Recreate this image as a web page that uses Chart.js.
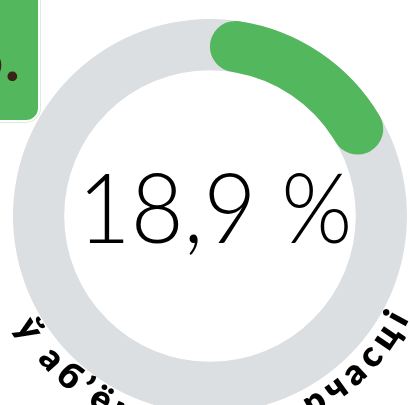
<!DOCTYPE html>
<html>
<head>
<meta charset="utf-8">
<script src="https://cdn.jsdelivr.net/npm/chart.js@4"></script>
<style>
  html, body { margin: 0; padding: 0; background: #ffffff; width: 410px; height: 405px; overflow: hidden; position: relative; }
  #wrap { position: absolute; left: -20px; top: -14px; width: 460px; height: 460px; }
  #badge { position: absolute; left: -40px; top: -20px; width: 76px; height: 138px; background: #53b75d;
           border: 2px solid #ffffff; border-radius: 14px; box-shadow: 0 0 0 1px #d9eedb; overflow: hidden; }
  #badge span { position: absolute; right: 18px; top: 43px; font-family: Lato, "Open Sans", sans-serif; font-weight: 700;
                font-size: 64px; color: #3a2217; line-height: 1; }
</style>
</head>
<body>
<div id="wrap"><canvas id="c" width="460" height="460"></canvas></div>
<div id="badge"><span>5.</span></div>
<script>
const categories = ['Доля', 'Астатняе'];
const values = [18.9, 81.1];
const centerLabel = '18,9 %';
const arcLabel = 'ў аб’ёме вытворчасці';

const GREEN = '#53b75d';
const GRAY = '#dcdfe2';

const decor = {
  id: 'decor',
  beforeDatasetsDraw(chart) {
    const arc = chart.getDatasetMeta(0).data[0];
    const ctx = chart.ctx;
    ctx.save();
    ctx.beginPath();
    ctx.arc(arc.x, arc.y, arc.outerRadius, 0, Math.PI * 2);
    ctx.arc(arc.x, arc.y, arc.innerRadius, 0, Math.PI * 2, true);
    ctx.fillStyle = GRAY;
    ctx.fill('evenodd');
    ctx.restore();
  },
  afterDraw(chart) {
    const arc = chart.getDatasetMeta(0).data[0];
    const ctx = chart.ctx;
    const cx = arc.x, cy = arc.y;
    ctx.save();
    // center value
    ctx.fillStyle = '#000000';
    ctx.font = '300 97px Lato, "Open Sans", sans-serif';
    ctx.textAlign = 'center';
    ctx.textBaseline = 'alphabetic';
    ctx.save();
    ctx.translate(cx + 5, cy + 27);
    ctx.scale(0.94, 1);
    ctx.fillText(centerLabel, 0, 0);
    ctx.restore();

    // curved label
    ctx.font = '800 36px Lato, "Open Sans", sans-serif';
    ctx.textBaseline = 'middle';
    ctx.textAlign = 'center';
    const chars = Array.from(arcLabel);
    const widths = chars.map(ch => ctx.measureText(ch).width);
    const r = arc.outerRadius + 16;
    const startDeg = 148, endDeg = 28.7;
    const totalArc = (startDeg - endDeg) * Math.PI / 180 * r;
    let base = 0;
    for (let i = 0; i < chars.length - 1; i++) base += (widths[i] + widths[i + 1]) / 2;
    const extra = (totalArc - base) / (chars.length - 1);
    let theta = startDeg * Math.PI / 180;
    for (let i = 0; i < chars.length; i++) {
      if (i > 0) theta -= ((widths[i - 1] + widths[i]) / 2 + extra) / r;
      const x = cx + r * Math.cos(theta);
      const y = cy + r * Math.sin(theta);
      ctx.save();
      ctx.translate(x, y);
      ctx.rotate(theta - Math.PI / 2);
      ctx.fillText(chars[i], 0, 0);
      ctx.restore();
    }
    ctx.restore();
  }
};

new Chart(document.getElementById('c'), {
  type: 'doughnut',
  data: {
    labels: categories,
    datasets: [{
      data: values,
      backgroundColor: [GREEN, 'rgba(0,0,0,0)'],
      borderWidth: 0,
      borderRadius: [30, 0],
      hoverOffset: 0,
      offset: 0
    }]
  },
  options: {
    responsive: false,
    animation: false,
    cutout: '74%',
    layout: { padding: 33 },
    plugins: { legend: { display: false }, tooltip: { enabled: false } },
    events: []
  },
  plugins: [decor]
});
</script>
</body>
</html>
